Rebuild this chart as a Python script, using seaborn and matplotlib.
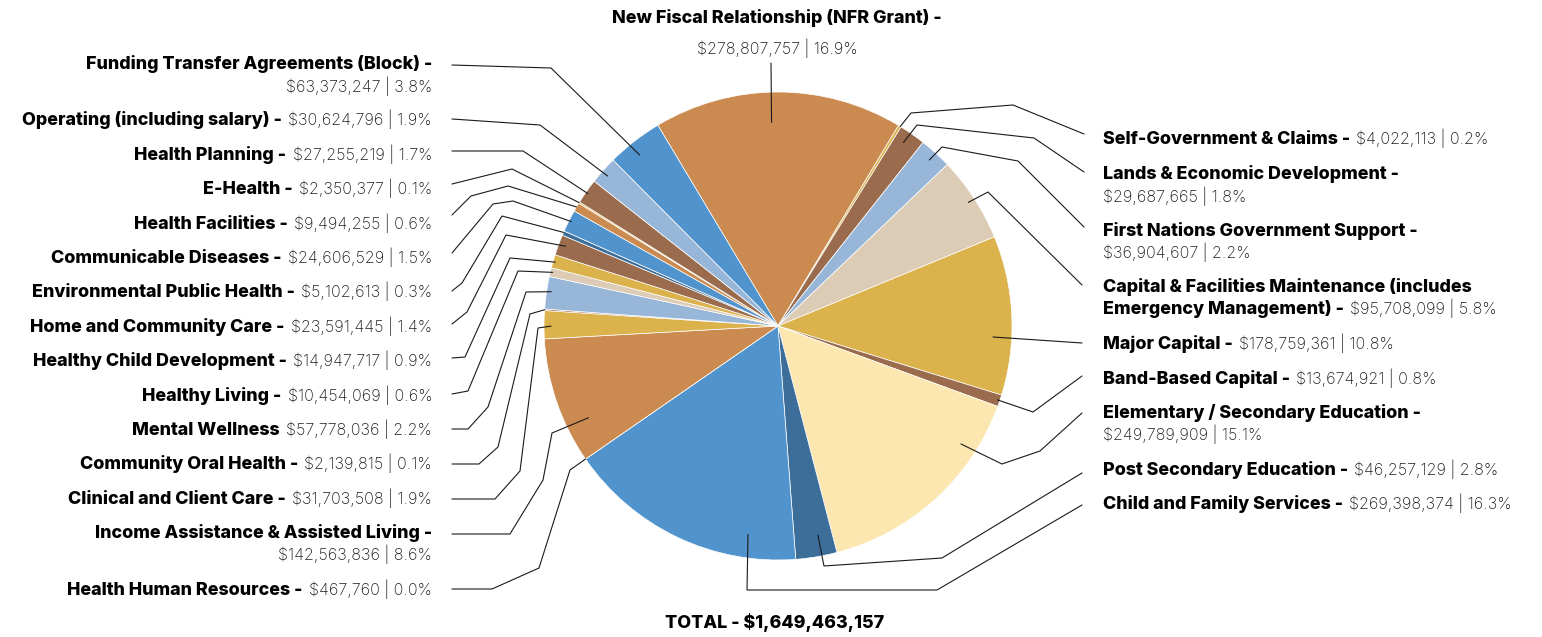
import numpy as np
import matplotlib.pyplot as plt
import seaborn as sns

W, H = 1542, 637

# slices in clockwise order, starting at the top with the NFR grant
names = [
    "New Fiscal Relationship (NFR Grant)",
    "Self-Government & Claims",
    "Lands & Economic Development",
    "First Nations Government Support",
    "Capital & Facilities Maintenance (includes\nEmergency Management)",
    "Major Capital",
    "Band-Based Capital",
    "Elementary / Secondary Education",
    "Post Secondary Education",
    "Child and Family Services",
    "Health Human Resources",
    "Income Assistance & Assisted Living",
    "Clinical and Client Care",
    "Community Oral Health",
    "Mental Wellness",
    "Healthy Living",
    "Healthy Child Development",
    "Home and Community Care",
    "Environmental Public Health",
    "Communicable Diseases",
    "Health Facilities",
    "E-Health",
    "Health Planning",
    "Operating (including salary)",
    "Funding Transfer Agreements (Block)",
]
amounts = [278807757, 4022113, 29687665, 36904607, 95708099, 178759361, 13674921,
           249789909, 46257129, 269398374, 467760, 142563836, 31703508, 2139815,
           57778036, 10454069, 14947717, 23591445, 5102613, 24606529, 9494255,
           2350377, 27255219, 30624796, 63373247]
pcts = [16.9, 0.2, 1.8, 2.2, 5.8, 10.8, 0.8, 15.1, 2.8, 16.3, 0.0, 8.6, 1.9, 0.1,
        2.2, 0.6, 0.9, 1.4, 0.3, 1.5, 0.6, 0.1, 1.7, 1.9, 3.8]
no_dash = ["Mental Wellness"]

BLUE, ORANGE, GOLD, BROWN = "#5193cc", "#cb8b50", "#dbb24b", "#9a6b4c"
LBLUE, BEIGE, CREAM, DBLUE = "#98b7d8", "#dcccb6", "#fce7b0", "#3d6e9a"
slice_colors = [ORANGE, GOLD, BROWN, LBLUE, BEIGE, GOLD, BROWN, CREAM, DBLUE, BLUE,
                BEIGE, ORANGE, GOLD, BROWN, LBLUE, BEIGE, GOLD, BROWN, DBLUE, BLUE,
                ORANGE, GOLD, BROWN, LBLUE, BLUE]

# label layout (pixel coords, y from the top): side, y of first line,
# value on its own line?, leader start inside the wedge (fraction across, fraction of radius),
# leader path from the pie out to the label
layout = [
    ("T", 17, True, (0.47, 0.87), [(771, 63)]),
    ("R", 138, False, (0.70, 1.00), [(911, 113), (1013, 105), (1084, 134)]),
    ("R", 173, True, (0.40, 0.95), [(917, 125), (1034, 138), (1084, 172)]),
    ("R", 230, True, (0.50, 0.96), [(942, 147), (1018, 161), (1084, 227)]),
    ("R", 286, False, (0.50, 0.97), [(988, 192), (1082, 285)]),
    ("R", 343, False, (0.64, 0.92), [(1082, 343)]),
    ("R", 378, False, (0.49, 0.99), [(1033, 412), (1082, 376)]),
    ("R", 412, True, (0.23, 0.93), [(1002, 464), (1040, 451), (1082, 413)]),
    ("R", 469, False, (0.37, 0.91), [(824, 566), (942, 558), (1082, 473)]),
    ("R", 503, False, (0.21, 0.90), [(747, 590), (937, 590), (1082, 505)]),
    ("L", 589, False, (0.50, 1.00), [(570, 470), (539, 568), (492, 589), (452, 589)]),
    ("L", 532, True, (0.28, 0.90), [(552, 433), (543, 480), (510, 534), (452, 534)]),
    ("L", 498, False, (0.45, 0.97), [(538, 328), (520, 471), (495, 499), (452, 499)]),
    ("L", 463, False, (0.50, 1.00), [(530, 314), (498, 447), (479, 464), (452, 464)]),
    ("L", 429, False, (0.55, 0.98), [(526, 292), (488, 407), (468, 429), (452, 429)]),
    ("L", 395, False, (0.53, 0.99), [(518, 271), (468, 391), (452, 394)]),
    ("L", 360, False, (0.48, 0.99), [(510, 258), (465, 357), (452, 358)]),
    ("L", 326, False, (0.56, 0.97), [(506, 235), (467, 312), (452, 324)]),
    ("L", 291, False, (0.67, 1.00), [(502, 216), (462, 283), (452, 291)]),
    ("L", 257, False, (0.52, 0.99), [(513, 201), (493, 204), (452, 253)]),
    ("L", 223, False, (0.52, 1.00), [(508, 186), (471, 196), (452, 215)]),
    ("L", 188, False, (0.50, 1.00), [(512, 169), (452, 184)]),
    ("L", 154, False, (0.46, 0.99), [(523, 151), (452, 151)]),
    ("L", 119, False, (0.45, 0.97), [(540, 125), (452, 119)]),
    ("L", 63, True, (0.42, 0.94), [(551, 68), (452, 65)]),
]

sns.set_theme(style="white")
plt.rcParams["font.family"] = ["Inter", "DejaVu Sans"]

LINE = 22.5
XL, XR = 432, 1103
BOLD = dict(fontsize=12.9, fontweight=800, color="black")
LIGHT = dict(fontsize=11.6, fontweight="light", color="#1e1e1e")

fig = plt.figure(figsize=(W / 100, H / 100), dpi=100)
ax = fig.add_axes([0, 0, 1, 1])

CX, CY, R = 778, H - 326, 234
wedges, _ = ax.pie(pcts, colors=sns.color_palette(slice_colors), startangle=120.9,
                   counterclock=False, center=(CX, CY), radius=R,
                   wedgeprops=dict(edgecolor="white", linewidth=0.5))
ax.set_xlim(0, W)
ax.set_ylim(0, H)
ax.set_aspect("equal")
ax.axis("off")


def base(y):
    # reading positions are centre of the capitals; convert to a baseline
    return H - (y + 6)


for i, (side, y0, wrap, (t, rf), path) in enumerate(layout):
    dash = "" if names[i] in no_dash else " -"
    bold_lines = (names[i] + dash).split("\n")
    value = f"${amounts[i]:,} | {pcts[i]:.1f}%"

    # leader line (wedge angles run clockwise, so start from theta2)
    w = wedges[i]
    ang = np.deg2rad(w.theta2 - t * (w.theta2 - w.theta1))
    xs = [CX + rf * R * np.cos(ang)] + [p[0] for p in path]
    ys = [CY + rf * R * np.sin(ang)] + [H - p[1] for p in path]
    ax.plot(xs, ys, color="#1a1a1a", lw=0.8, solid_joinstyle="miter")

    if side == "T":
        ax.text(777, base(y0), bold_lines[0], ha="center", va="baseline", **BOLD)
        ax.text(777, base(48), value, ha="center", va="baseline", **LIGHT)
        continue

    x = XL if side == "L" else XR
    ha = "right" if side == "L" else "left"
    y = y0
    for line in bold_lines[:-1]:
        ax.text(x, base(y), line, ha=ha, va="baseline", **BOLD)
        y += LINE
    last = bold_lines[-1]
    if wrap:
        ax.text(x, base(y), last, ha=ha, va="baseline", **BOLD)
        ax.text(x, base(y + LINE), value, ha=ha, va="baseline", **LIGHT)
    elif side == "L":
        vt = ax.text(x, base(y), value, ha="right", va="baseline", **LIGHT)
        ax.annotate(last, xy=(0, 0), xycoords=vt, xytext=(-4.5, 0),
                    textcoords="offset points", ha="right", va="bottom", **BOLD)
    else:
        bt = ax.text(x, base(y), last, ha="left", va="baseline", **BOLD)
        ax.annotate(value, xy=(1, 0), xycoords=bt, xytext=(4.5, 0),
                    textcoords="offset points", ha="left", va="bottom", **LIGHT)

ax.text(775, base(622), f"TOTAL - ${sum(amounts):,}", ha="center", va="baseline", **BOLD)

fig.savefig("out.png", dpi=100)
